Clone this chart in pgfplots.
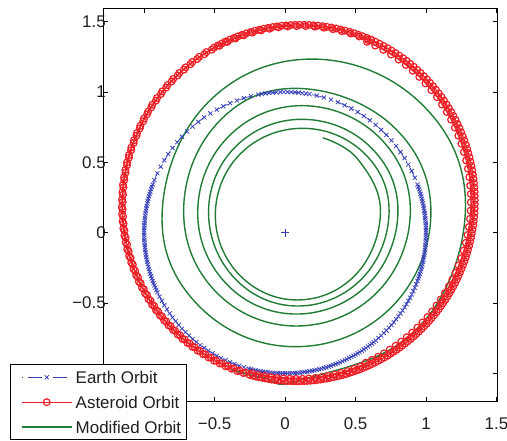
\documentclass[border=0pt]{standalone}
\usepackage{fontspec}
\setmainfont{Liberation Sans}
\usepackage{pgfplots}
\pgfplotsset{compat=1.18}
\definecolor{eblue}{RGB}{55,64,186}
\definecolor{ared}{RGB}{236,30,38}
\definecolor{mgreen}{RGB}{34,124,56}
\definecolor{tgray}{RGB}{35,31,32}
\begin{document}
\begin{tikzpicture}
\begin{axis}[
  scale only axis, width=394bp, height=392.7bp,
  xmin=-1.29, xmax=1.506, ymin=-1.196, ymax=1.595,
  xtick={-1,-0.5,0,0.5,1,1.5}, xticklabels={,−0.5,0,0.5,1,1.5},
  ytick={-1,-0.5,0,0.5,1,1.5}, yticklabels={,−0.5,0,0.5,1,1.5},
  tick label style={font=\fontsize{17}{20}\selectfont, text=tgray},
  xticklabel style={yshift=-13bp},
  yticklabel style={xshift=6bp},
  major tick length=4.5bp,
  tick style={black, line width=0.5bp},
  axis line style={line width=0.7bp},
  legend cell align=left,
  legend style={at={(axis description cs:-0.2368,-0.0993)}, anchor=south west,
    draw=black, fill=white, line width=0.7bp, font=\fontsize{17}{20}\selectfont, text=tgray,
    inner xsep=1.7bp, inner ysep=4.45bp, row sep=8.6bp,
    nodes={inner xsep=3.3bp, inner ysep=2bp, text depth=0bp}},
  legend image code/.code={\path (0bp,0bp); \draw[mark repeat=2,mark phase=2,#1] plot coordinates {(9bp,0bp)(34bp,0bp)(59bp,0bp)};},
]
% Earth orbit (angle in degrees, radius)
\addplot[color=eblue, line width=0.7bp, dash pattern=on 1bp off 5bp on 14bp off 5bp, mark=x, mark size=2.9bp, mark options={solid, line width=0.75bp}, data cs=polar] coordinates {
(20,1)(23,1)(26,1)(29,1)(32,1)(35,1)(38,1)(41,1)(44,1)(47,1)(50,1)(53,1)(56,1)(59,1)(62,1)(65,1)(68,1)(71,1)(74,1)(77,1)
(80,1)(81.5,1)(83,1)(84.5,1)(86,1)(87.5,1)(89,1)(90.5,1)(92,1)(93.5,1)(95,1)(96.5,1)(98,1)(99.5,1)
(101,1)(104,1)(107,1)(110,1)(113,1)(116,1)(119,1)(122,1)(125,1)(128,1)(131,1)(134,1)(137,1)(140,1)(143,1)(146,1)(149,1)(152,1)(155,1)(158,1)
(160,1)(161,1)(162,1)(163,1)(164,1)(165,1)(166,1)(167,1)(168,1)(169,1)(170,1)(171,1)(172,1)(173,1)(174,1)(175,1)(176,1)(177,1)(178,1)(179,1)
(180,1)(181,1)(182,1)(183,1)(184,1)(185,1)(186,1)(187,1)(188,1)(189,1)(190,1)(191,1)(192,1)(193,1)(194,1)(195,1)(196,1)(197,1)(198,1)(199,1)
(200,1)(201,1)(202,1)(203,1)(204,1)(205,1)
(207,1)(209,1)(211,1)(213,1)(215,1)(217,1)(219,1)(221,1)(223,1)(225,1)(227,1)(229,1)(231,1)(233,1)(235,1)(237,1)(239,1)(241,1)(243,1)(245,1)(247,1)(249,1)(251,1)(253,1)
(255,1)(256,1)(257,1)(258,1)(259,1)(260,1)(261,1)(262,1)(263,1)(264,1)(265,1)(266,1)(267,1)(268,1)(269,1)(270,1)(271,1)(272,1)(273,1)(274,1)
(275,1)(276,1)(277,1)(278,1)(279,1)(280,1)(281,1)(282,1)(283,1)(284,1)(285,1)(286,1)(287,1)(288,1)(289,1)(290,1)(291,1)(292,1)(293,1)(294,1)
(295,1)(296,1)(297,1)(298,1)(299,1)(300,1)(301,1)(302,1)(303,1)(304,1)(305,1)(306,1)(307,1)(308,1)(309,1)(310,1)
(311.5,1)(313,1)(314.5,1)(316,1)(317.5,1)(319,1)(320.5,1)(322,1)(323.5,1)(325,1)(326.5,1)(328,1)(329.5,1)(331,1)(332.5,1)(334,1)(335.5,1)(337,1)(338.5,1)
(340,1)(341,1)(342,1)(343,1)(344,1)(345,1)(346,1)(347,1)(348,1)(349,1)(350,1)(351,1)(352,1)(353,1)(354,1)(355,1)(356,1)(357,1)(358,1)(359,1)
(360,1)(361,1)(362,1)(363,1)(364,1)(365,1)(366,1)(367,1)(368,1)(369,1)(370,1)(371,1)(372,1)(373,1)(374,1)(375,1)(376,1)(377,1)(378,1)(379,1)
};
% Asteroid orbit, second revolution (angle in degrees, radius)
\addplot[color=ared, line width=1bp, mark=o, mark size=3.4bp, mark options={solid, line width=1.2bp}, data cs=polar, forget plot] coordinates {
(66.8,1.491)(69.3,1.491)(71.8,1.490)(74.3,1.488)(76.8,1.486)(79.3,1.483)(81.8,1.480)(84.3,1.476)(86.8,1.471)(89.3,1.466)(91.8,1.461)(94.3,1.454)
(96.8,1.448)(99.3,1.441)(101.8,1.433)(104.3,1.425)(106.8,1.417)(109.3,1.408)
(111.8,1.401)(114.3,1.392)(116.8,1.383)(119.3,1.373)(121.8,1.363)(124.3,1.353)(126.8,1.343)(129.3,1.333)(131.8,1.322)(134.3,1.312)(136.8,1.302)(139.3,1.291)
(141.8,1.281)(144.3,1.270)(146.8,1.260)(149.3,1.250)(151.8,1.240)(154.3,1.230)(156.8,1.220)(159.3,1.210)(161.8,1.201)(164.3,1.192)(166.8,1.182)(169.3,1.173)
(171.8,1.165)(174.3,1.156)(176.8,1.148)(179.3,1.140)(181.8,1.132)(184.3,1.125)(186.8,1.118)(189.3,1.111)(191.8,1.104)(194.3,1.098)(196.8,1.091)(199.3,1.086)
(201.8,1.080)(204.3,1.075)(206.8,1.070)(209.3,1.065)(211.8,1.061)(214.3,1.057)(216.8,1.053)(219.3,1.049)(221.8,1.046)(224.3,1.043)(226.8,1.041)(229.3,1.038)
(231.8,1.036)(234.3,1.035)(236.8,1.033)(239.3,1.032)(241.8,1.032)(244.3,1.031)(246.8,1.031)(249.3,1.031)(251.8,1.032)(254.3,1.032)
(256.8,1.026)(259.3,1.028)(261.8,1.029)(264.3,1.031)(266.8,1.034)(269.3,1.036)(271.8,1.039)(274.3,1.042)(276.8,1.046)(279.3,1.050)(281.8,1.054)(284.3,1.058)
(286.8,1.063)(289.3,1.068)(291.8,1.073)(294.3,1.079)(296.8,1.084)(299.3,1.091)
(301.8,1.087)(304.3,1.094)(306.8,1.101)(309.3,1.108)(311.8,1.115)(314.3,1.123)(316.8,1.131)(319.3,1.139)(321.8,1.148)(324.3,1.156)(326.8,1.165)(329.3,1.175)
(331.8,1.184)(334.3,1.193)(336.8,1.203)(339.3,1.213)(341.8,1.223)(344.3,1.233)(346.8,1.243)(349.3,1.253)(351.8,1.264)(354.3,1.274)(356.8,1.285)(359.3,1.295)
(361.8,1.305)(364.3,1.316)(366.8,1.326)(369.3,1.336)(371.8,1.346)(374.3,1.356)(376.8,1.366)(379.3,1.375)(381.8,1.384)(384.3,1.393)(386.8,1.402)(389.3,1.410)
(391.8,1.418)(394.3,1.426)(396.8,1.433)(399.3,1.439)(401.8,1.446)(404.3,1.451)(406.8,1.456)(409.3,1.461)(411.8,1.465)(414.3,1.468)(416.8,1.471)(419.3,1.473)
(421.8,1.475)(424.3,1.476)(426.8,1.476)
};
% Asteroid orbit (angle in degrees, radius)
\addplot[color=ared, line width=1bp, mark=o, mark size=3.4bp, mark options={solid, line width=1.2bp}, data cs=polar] coordinates {
(66,1.501)(67.25,1.501)(68.5,1.501)(69.75,1.500)(71,1.500)(72.25,1.499)(73.5,1.498)(74.75,1.497)(76,1.496)(77.25,1.495)(78.5,1.493)(79.75,1.492)
(81,1.490)(82.25,1.488)(83.5,1.486)(84.75,1.484)(86,1.481)(87.25,1.479)(88.5,1.476)(89.75,1.473)(91,1.471)(92.25,1.468)(93.5,1.464)(94.75,1.461)
(96,1.458)(97.25,1.454)(98.5,1.451)(99.75,1.447)(101,1.443)(102.25,1.439)(103.5,1.435)(104.75,1.431)(106,1.427)(107.25,1.423)(108.5,1.418)(109.75,1.414)(111,1.409)
(113.5,1.400)(116,1.391)(118.5,1.381)(121,1.371)(123.5,1.361)(126,1.351)(128.5,1.341)(131,1.330)(133.5,1.320)(136,1.310)(138.5,1.299)(141,1.289)
(143.5,1.278)(146,1.268)(148.5,1.258)(151,1.248)(153.5,1.238)(156,1.228)(158.5,1.218)(161,1.209)(163.5,1.200)(166,1.190)(168.5,1.181)(171,1.173)
(173.5,1.164)(176,1.156)(178.5,1.148)(181,1.140)(183.5,1.133)(186,1.126)(188.5,1.119)(191,1.112)(193.5,1.106)(196,1.099)(198.5,1.094)(201,1.088)
(203.5,1.083)(206,1.078)(208.5,1.073)(211,1.069)(213.5,1.065)(216,1.061)(218.5,1.057)(221,1.054)(223.5,1.051)(226,1.049)(228.5,1.046)(231,1.044)
(233.5,1.043)(236,1.041)(238.5,1.040)(241,1.040)(243.5,1.039)(246,1.039)(248.5,1.039)(251,1.040)(253.5,1.040)
(256,1.041)(257.25,1.042)(258.5,1.043)(259.75,1.044)(261,1.044)(262.25,1.045)(263.5,1.046)(264.75,1.048)(266,1.049)(267.25,1.050)(268.5,1.051)(269.75,1.053)
(271,1.054)(272.25,1.056)(273.5,1.057)(274.75,1.059)(276,1.061)(277.25,1.063)(278.5,1.065)(279.75,1.067)(281,1.069)(282.25,1.071)(283.5,1.073)(284.75,1.075)
(286,1.078)(287.25,1.080)(288.5,1.083)(289.75,1.085)(291,1.088)(292.25,1.091)(293.5,1.094)(294.75,1.096)(296,1.099)(297.25,1.102)(298.5,1.106)(299.75,1.109)
(301,1.112)(302.25,1.115)(303.5,1.119)(304.75,1.122)(306,1.126)(307.25,1.129)(308.5,1.133)(309.75,1.137)(311,1.140)(312.25,1.144)(313.5,1.148)(314.75,1.152)
(316,1.156)(317.25,1.160)(318.5,1.164)(319.75,1.169)(321,1.173)(322.25,1.177)(323.5,1.181)(324.75,1.186)(326,1.190)(327.25,1.195)(328.5,1.200)(329.75,1.204)
(331,1.209)(332.25,1.214)(333.5,1.218)(334.75,1.223)(336,1.228)(337.25,1.233)(338.5,1.238)(339.75,1.243)(341,1.248)(342.25,1.253)(343.5,1.258)(344.75,1.263)
(346,1.268)(347.25,1.273)(348.5,1.278)(349.75,1.284)(351,1.289)(352.25,1.294)(353.5,1.299)(354.75,1.304)(356,1.310)(357.25,1.315)(358.5,1.320)(359.75,1.325)
(361,1.330)(362.25,1.336)(363.5,1.341)(364.75,1.346)(366,1.351)(367.25,1.356)(368.5,1.361)(369.75,1.366)(371,1.371)(372.25,1.376)(373.5,1.381)(374.75,1.386)
(376,1.391)(377.25,1.395)(378.5,1.400)(379.75,1.405)(381,1.409)(382.25,1.414)(383.5,1.418)(384.75,1.423)(386,1.427)(387.25,1.431)(388.5,1.435)(389.75,1.439)
(391,1.443)(392.25,1.447)(393.5,1.451)(394.75,1.454)(396,1.458)(397.25,1.461)(398.5,1.464)(399.75,1.468)(401,1.471)(402.25,1.473)(403.5,1.476)(404.75,1.479)
(406,1.481)(407.25,1.484)(408.5,1.486)(409.75,1.488)(411,1.490)(412.25,1.492)(413.5,1.493)(414.75,1.495)(416,1.496)(417.25,1.497)(418.5,1.498)(419.75,1.499)
(421,1.500)(422.25,1.500)(423.5,1.501)(424.75,1.501)(426,1.501)
};
% Modified orbit (x, y)
\addplot[color=mgreen, line width=1.4bp, smooth, tension=0.68] coordinates {
(-0.38,-0.976)(-0.15,-1.03)(0.10,-1.05)(0.934,-0.690)(1.28,0.18)(0.958,0.925)(0.18,1.234)(-0.564,0.908)(-0.873,0.12)(-0.594,-0.538)
(0.08,-0.81)(0.755,-0.529)(1.035,0.15)(0.752,0.769)(0.07,1.026)(-0.489,0.769)(-0.72,0.15)(-0.486,-0.425)
(0.08,-0.663)(0.652,-0.425)(0.889,0.15)(0.664,0.682)(0.12,0.903)(-0.403,0.682)(-0.62,0.15)(-0.415,-0.365)
(0.08,-0.578)(0.590,-0.365)(0.801,0.15)(0.601,0.614)(0.12,0.806)(-0.349,0.614)(-0.543,0.15)(-0.358,-0.324)
(0.09,-0.521)(0.548,-0.324)(0.738,0.15)(0.557,0.569)(0.12,0.742)(-0.315,0.563)(-0.495,0.13)(-0.324,-0.300)
(0.09,-0.478)(0.505,-0.294)(0.677,0.15)(0.514,0.525)(0.267,0.675)
};
% Sun
\addplot[color=eblue, only marks, mark=+, mark size=4bp, mark options={line width=0.6bp}, forget plot] coordinates {(0,0)};
\legend{Earth Orbit, Asteroid Orbit, Modified Orbit}
\end{axis}
\pgfresetboundingbox
\path[use as bounding box] (-103.3bp,-40bp) rectangle (403.7bp,401bp);
\end{tikzpicture}
\end{document}
